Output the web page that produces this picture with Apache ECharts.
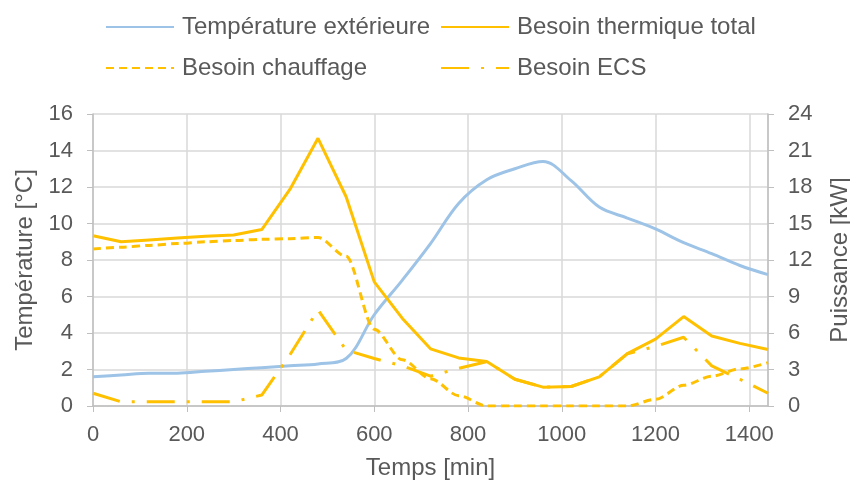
<!DOCTYPE html>
<html>
<head>
<meta charset="utf-8">
<script src="https://cdn.jsdelivr.net/npm/echarts@6/dist/echarts.min.js"></script>
<style>
html,body{margin:0;padding:0;background:#fff;}
#chart{width:850px;height:485px;}
</style>
</head>
<body>
<div id="chart"></div>
<script>
var times = [0,60,120,180,240,300,360,420,480,540,600,660,720,780,840,900,960,1020,1080,1140,1200,1260,1320,1380,1440];
var tempExt = [1.6,1.7,1.8,1.8,1.9,2.0,2.1,2.2,2.3,2.6,5.0,6.9,8.9,11.1,12.4,13.0,13.4,12.35,10.9,10.3,9.7,8.95,8.35,7.7,7.2];
var besoinTotal = [14.0,13.5,13.65,13.8,13.95,14.05,14.5,17.8,22.0,17.2,10.2,7.2,4.7,3.95,3.65,2.2,1.55,1.6,2.4,4.3,5.5,7.35,5.75,5.15,4.65];
var besoinChauffage = [12.9,13.05,13.2,13.35,13.5,13.6,13.7,13.75,13.85,12.3,6.3,3.8,2.25,0.85,0,0,0,0,0,0,0.55,1.7,2.45,3.05,3.56];
var besoinECS = [1.05,0.35,0.35,0.35,0.35,0.35,0.9,4.2,7.9,4.6,3.9,3.3,2.45,3.1,3.65,2.2,1.55,1.6,2.4,4.3,4.9,5.65,3.3,2.2,1.05];
var names = ['Température extérieure','Besoin thermique total','Besoin chauffage','Besoin ECS'];

function pairs(vals){ return times.map(function(t,i){ return [t, vals[i]]; }); }

var txt = '#595959';
var font = 'Liberation Sans, Arial, sans-serif';
var gold = '#FFC000';
var blue = '#9DC3E6';

function leg(name, left, top){
  return {data:[name], left:left, top:top, padding:0, itemWidth:68, itemHeight:14, itemGap:0,
    itemStyle:{opacity:0},
    textStyle:{color:txt, fontSize:24, fontFamily:font, padding:[0,0,0,3]}};
}

var chart = echarts.init(document.getElementById('chart'), null, {renderer:'canvas'});
chart.setOption({
  animation:false,
  backgroundColor:'#fff',
  legend:[leg(names[0],105,15), leg(names[1],440,15), leg(names[2],105,56), leg(names[3],440,56)],
  grid:{left:93, right:82, top:114, bottom:79, containLabel:false, outerBoundsMode:'none'},
  xAxis:{type:'value', min:0, max:1440, interval:200,
    name:'Temps [min]', nameLocation:'middle', nameGap:50,
    nameTextStyle:{color:txt, fontSize:24, fontFamily:font},
    axisLine:{show:true, lineStyle:{color:'#BFBFBF', width:1.5}},
    axisTick:{show:true, length:6, lineStyle:{color:'#BFBFBF'}},
    axisLabel:{color:txt, fontSize:22, fontFamily:font, margin:18, showMaxLabel:false,
      formatter:function(v){ return String(v); }},
    splitLine:{show:true, lineStyle:{color:'#D9D9D9', width:1.5}}},
  yAxis:[
    {type:'value', min:0, max:16, interval:2, position:'left',
     name:'Température [°C]', nameLocation:'middle', nameGap:54, nameRotate:90,
     nameTextStyle:{color:txt, fontSize:24, fontFamily:font},
     axisLine:{show:true, lineStyle:{color:'#BFBFBF', width:1.5}},
     axisTick:{show:true, length:6, lineStyle:{color:'#BFBFBF'}},
     axisLabel:{color:txt, fontSize:22, fontFamily:font, margin:20},
     splitLine:{show:true, lineStyle:{color:'#D9D9D9', width:1.5}}},
    {type:'value', min:0, max:24, interval:3, position:'right',
     name:'Puissance [kW]', nameLocation:'middle', nameGap:60, nameRotate:90,
     nameTextStyle:{color:txt, fontSize:24, fontFamily:font},
     axisLine:{show:true, lineStyle:{color:'#BFBFBF', width:1.5}},
     axisTick:{show:true, length:6, lineStyle:{color:'#BFBFBF'}},
     axisLabel:{color:txt, fontSize:22, fontFamily:font, margin:20},
     splitLine:{show:false}}
  ],
  series:[
    {name:names[0], type:'line', yAxisIndex:0, data:pairs(tempExt), symbol:'none', smooth:0.35,
     lineStyle:{color:blue, width:3}, itemStyle:{color:blue}},
    {name:names[1], type:'line', yAxisIndex:1, data:pairs(besoinTotal), symbol:'none',
     lineStyle:{color:gold, width:3}, itemStyle:{color:gold}},
    {name:names[2], type:'line', yAxisIndex:1, data:pairs(besoinChauffage), symbol:'none', smooth:0.3, smoothMonotone:'x',
     lineStyle:{color:gold, width:3, type:[8,5]}, itemStyle:{color:gold}},
    {name:names[3], type:'line', yAxisIndex:1, data:pairs(besoinECS), symbol:'none',
     lineStyle:{color:gold, width:3, type:[28,12,3,12]}, itemStyle:{color:gold}}
  ]
});
</script>
</body>
</html>
